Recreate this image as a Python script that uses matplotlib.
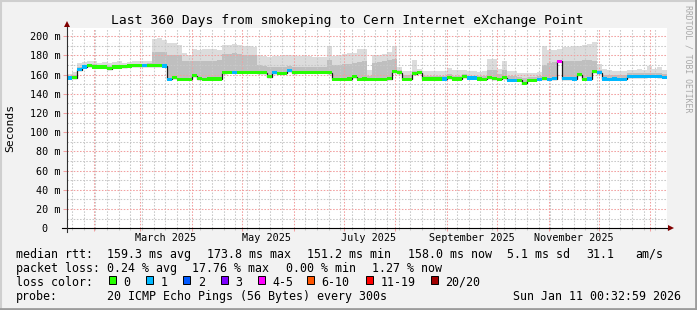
import matplotlib
matplotlib.use('Agg')
import matplotlib.pyplot as plt
import matplotlib.dates as mdates
from matplotlib.patches import Rectangle
from matplotlib.lines import Line2D
from matplotlib.ticker import MultipleLocator, NullFormatter
from matplotlib.transforms import ScaledTranslation
import numpy as np
import pandas as pd

# 3-day samples covering the last 360 days
start_time = '2025-01-16 00:32:59'
end_time = 'Sun Jan 11 00:32:59 2026'

median_ms = [
    156.5, 157, 165, 168, 169.5, 168, 168, 168, 166, 168,
    168, 168.5, 169, 169.5, 169.5, 169.5, 169.5, 169.5, 169.5, 169,
    155, 157, 155, 155, 155, 159, 156, 155, 155.5, 155.5,
    155.5, 162, 162.5, 162.5, 162.5, 162.5, 162.5, 162.5, 162, 162,
    158, 162, 161.5, 161.5, 164, 162, 162.5, 162.5, 162.5, 162.5,
    162.5, 162.5, 162, 155, 155, 155, 155.5, 158, 155, 155.5,
    155, 155, 155, 155, 156, 163, 162, 155, 155, 161,
    162, 155.5, 155.5, 155.5, 155.5, 155.5, 157, 155.5, 155.5, 158,
    156.5, 156.5, 155.5, 155, 157, 156, 155, 157, 154, 154,
    154, 151.2, 154, 154, 155, 156, 155, 156, 173.8, 156,
    156, 155.5, 160, 155, 155.5, 163, 162, 155.5, 155, 155.5,
    155, 155, 158, 158, 158, 158, 158.5, 158.5, 158, 157.5,
]

smoke_hi_ms = [
    161, 163, 172, 173, 174, 174, 172, 173, 172, 173,
    174, 172, 173, 174, 174, 174, 174, 197, 198, 196,
    193, 193, 191, 183, 180, 187, 186, 187, 187, 187,
    186, 191, 191, 192, 191, 190, 190, 189, 180, 179,
    178, 179, 179, 180, 180, 179, 179, 180, 179, 178,
    178, 178, 190, 179, 180, 182, 183, 183, 187, 187,
    165, 180, 181, 182, 184, 190, 168, 164, 164, 175,
    166, 164, 164, 164, 164, 164, 167, 165, 165, 165,
    164, 164, 163, 164, 176, 176, 166, 174, 164, 164,
    162, 162, 162, 162, 163, 190, 186, 186, 187, 189,
    189, 190, 190, 191, 192, 194, 171, 166, 165, 164,
    164, 164, 165, 165, 166, 165, 169, 166, 168, 165,
]

smoke_mid_ms = [
    159, 160, 168, 170, 171, 171, 170, 170, 169, 170,
    170, 170, 171, 171, 171, 171, 172, 184, 184, 184,
    180, 180, 180, 174, 174, 174, 174, 174, 174, 174,
    175, 182, 182, 183, 182, 181, 181, 180, 170, 169,
    168, 168, 168, 168, 169, 168, 168, 168, 168, 168,
    168, 168, 175, 170, 170, 171, 171, 172, 173, 174,
    159, 172, 173, 174, 175, 176, 165, 160, 160, 164,
    164, 159, 159, 159, 159, 159, 161, 159, 159, 161,
    159, 159, 159, 159, 165, 165, 161, 165, 159, 159,
    158, 157, 158, 158, 159, 170, 172, 173, 174, 174,
    174, 174, 174, 175, 175, 174, 165, 160, 160, 160,
    160, 160, 162, 162, 162, 162, 162, 162, 162, 161,
]

# index into loss_labels / loss_colors
loss_class = [
    1, 0, 1, 1, 0, 0, 0, 0, 0, 0,
    0, 0, 0, 0, 0, 1, 0, 0, 0, 1,
    1, 0, 0, 0, 0, 0, 0, 0, 0, 0,
    0, 0, 0, 1, 0, 0, 0, 0, 0, 0,
    0, 1, 0, 0, 1, 0, 0, 0, 0, 0,
    0, 0, 0, 0, 0, 0, 0, 0, 0, 0,
    0, 0, 0, 0, 0, 0, 0, 0, 0, 0,
    0, 0, 0, 0, 0, 1, 0, 0, 0, 0,
    1, 1, 0, 0, 0, 0, 0, 0, 1, 1,
    0, 0, 0, 0, 1, 0, 1, 1, 4, 1,
    1, 1, 0, 0, 1, 0, 1, 1, 1, 1,
    1, 1, 1, 1, 1, 1, 1, 1, 1, 1,
]

loss_labels = ['0', '1', '2', '3', '4-5', '6-10', '11-19', '20/20']
loss_colors = ['#26ff00', '#00b8ff', '#0059ff', '#7e00ff',
               '#ff00ff', '#ff5500', '#ff0000', '#a00000']

month_label_dates = ['2025-03-16', '2025-05-16', '2025-07-16',
                     '2025-09-16', '2025-11-16']
y_ticks = [0, 20, 40, 60, 80, 100, 120, 140, 160, 180, 200]

rtt_stats = ['159.3 ms avg', '173.8 ms max', '151.2 ms min',
             '158.0 ms now', '5.1 ms sd', '31.1', 'am/s']
loss_stats = ['0.24 % avg', '17.76 % max', '0.00 % min', '1.27 % now']
probe_text = '20 ICMP Echo Pings (56 Bytes) every 300s'
title = 'Last 360 Days from smokeping to Cern Internet eXchange Point'

W, H = 697, 310
BG = '#f2f2f2'
MGRID = '#f2a0a0'
GRID = '#c8c8c8'

plt.rcParams['font.family'] = 'DejaVu Sans Mono'


def px(x, y):
    # pixel position (from top-left) -> figure fraction
    return x / W, 1 - y / H


fig = plt.figure(figsize=(W / 100, H / 100), dpi=100, facecolor=BG)
ax = fig.add_axes([67 / W, 1 - 228.3 / H, 600 / W, 200 / H])
ax.set_facecolor('white')

edges = mdates.date2num(pd.date_range(start_time, periods=len(median_ms) + 1,
                                      freq='3D').to_pydatetime())
med = np.array(median_ms)

# smoke
ax.stairs(smoke_hi_ms, edges, baseline=med, fill=True, color='#dcdcdc', lw=0, zorder=1)
ax.stairs(smoke_mid_ms, edges, baseline=med, fill=True, color='#bfbfbf', lw=0, zorder=1.1)
# median line + loss colour band
ax.stairs(med, edges, baseline=None, color='#1a1a1a', lw=0.9, zorder=2.6)
ax.bar(edges[:-1], 3.2, bottom=med - 1.6, width=np.diff(edges), align='edge',
       color=[loss_colors[c] for c in loss_class], lw=0, zorder=3)

ax.set_xlim(edges[0], edges[-1])
ax.set_ylim(0, 208.3)

# grid
ax.set_axisbelow('line')
ax.xaxis.set_major_locator(mdates.MonthLocator())
ax.xaxis.set_minor_locator(mdates.WeekdayLocator(byweekday=mdates.SU))
ax.xaxis.set_major_formatter(NullFormatter())
ax.set_yticks(y_ticks)
ax.set_yticklabels(['0'] + ['%d m' % v for v in y_ticks[1:]])
ax.yaxis.set_minor_locator(MultipleLocator(10))
ax.grid(which='major', color=MGRID, lw=0.75, ls=(0, (1.5, 1.5)))
ax.grid(which='minor', color=GRID, lw=0.75, ls=(0, (1.5, 1.5)))
ax.tick_params(axis='y', which='major', length=3, width=0.75, color=MGRID,
               pad=1.6, labelsize=7.3)
ax.tick_params(axis='y', which='minor', length=0)
ax.tick_params(axis='x', which='major', length=2.5, width=0.75, color=MGRID)
ax.tick_params(axis='x', which='minor', length=1.5, width=0.75, color=GRID)
for s in ax.spines.values():
    s.set_visible(False)

# "0" label sits further left in rrdtool
zero_lbl = ax.yaxis.get_major_ticks()[0].label1
zero_lbl.set_transform(zero_lbl.get_transform() +
                       ScaledTranslation(-13 / 100, 0, fig.dpi_scale_trans))

# month labels
sec = ax.secondary_xaxis('bottom')
sec.set_xticks(mdates.date2num(pd.to_datetime(month_label_dates).to_pydatetime()))
sec.xaxis.set_major_formatter(mdates.DateFormatter('%B %Y'))
sec.tick_params(length=0, pad=3.6, labelsize=7.3)
for s in sec.spines.values():
    s.set_visible(False)

# axes with arrows
ax.plot([-0.0085, 1.004], [0, 0], transform=ax.transAxes, color='#000000',
        lw=0.8, clip_on=False, zorder=4)
ax.plot([0, 0], [-0.02, 1.018], transform=ax.transAxes, color='#303030',
        lw=0.8, clip_on=False, zorder=4)
ax.plot([1.006], [0], marker='>', ms=4.5, color='#800000', mew=0,
        transform=ax.transAxes, clip_on=False, zorder=5)
ax.plot([0], [1.022], marker='^', ms=4.5, color='#800000', mew=0,
        transform=ax.transAxes, clip_on=False, zorder=5)

# texts
fig.text(*px(347.5, 24), title, ha='center', va='baseline', fontsize=9.4)
fig.text(*px(10.5, 127.5), 'Seconds', rotation=90, ha='center', va='center',
         fontsize=8.2)
fig.text(*px(688, 58.5), 'RRDTOOL / TOBI OETIKER', rotation=270, ha='center',
         va='center', fontsize=5.9, color='#a8a8a8')

LS = 8.35
fig.text(*px(16, 257.7), 'median rtt:', fontsize=LS, va='baseline')
for x, s in zip([107.3, 207.3, 307.3, 407.7, 506.7, 586, 635.3], rtt_stats):
    fig.text(*px(x, 257.7), s, fontsize=LS, va='baseline')
fig.text(*px(16, 271.7), 'packet loss:', fontsize=LS, va='baseline')
for x, s in zip([107.3, 192.5, 285.5, 372.3], loss_stats):
    fig.text(*px(x, 271.7), s, fontsize=LS, va='baseline')
fig.text(*px(16, 285.7), 'loss color:', fontsize=LS, va='baseline')
for x, lbl, c in zip([108.7, 146, 183.3, 220.7, 258, 306.7, 366, 430.7],
                     loss_labels, loss_colors):
    fig.add_artist(Rectangle(px(x, 284), 7 / W, 8 / H, transform=fig.transFigure,
                             facecolor=c, edgecolor='black', lw=0.7))
    fig.text(*px(x + 14.6, 285.7), lbl, fontsize=LS, va='baseline')
fig.text(*px(16, 300), 'probe:', fontsize=LS, va='baseline')
fig.text(*px(107.3, 300), probe_text, fontsize=LS, va='baseline')
fig.text(*px(513.3, 300), end_time, fontsize=LS, va='baseline')

# 3d frame
fig.add_artist(Line2D([0, 1], [0.998, 0.998], transform=fig.transFigure, color='#cfcfcf', lw=1.5))
fig.add_artist(Line2D([0.001, 0.001], [0, 1], transform=fig.transFigure, color='#cfcfcf', lw=1.5))
fig.add_artist(Line2D([0, 1], [0.003, 0.003], transform=fig.transFigure, color='#9c9c9c', lw=2))
fig.add_artist(Line2D([0.998, 0.998], [0, 1], transform=fig.transFigure, color='#9c9c9c', lw=2))

fig.savefig('out.png', dpi=100, facecolor=BG)
